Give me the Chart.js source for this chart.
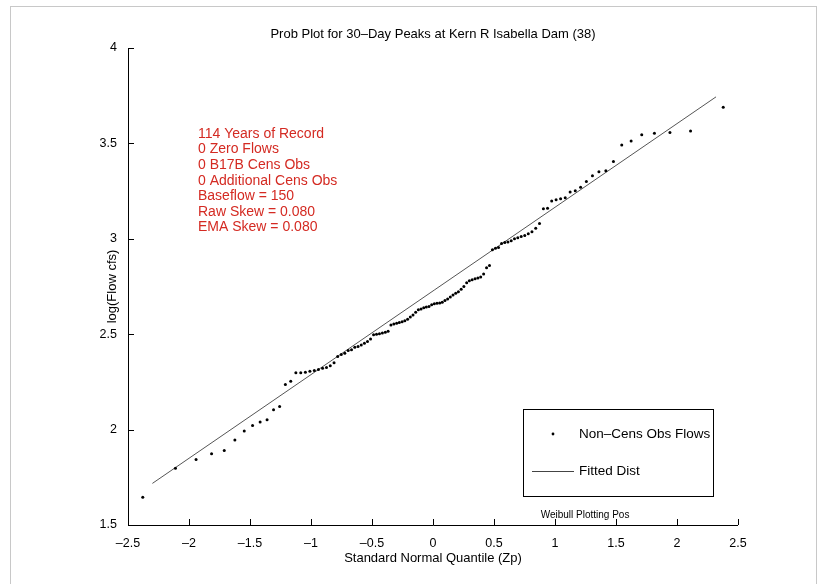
<!DOCTYPE html>
<html>
<head>
<meta charset="utf-8">
<script src="https://cdn.jsdelivr.net/npm/chart.js@4.4.1/dist/chart.umd.min.js"></script>
<style>
  html, body { margin: 0; padding: 0; background: #fff; }
  #wrap { position: relative; width: 827px; height: 584px; }
  #frame { position: absolute; left: 10px; top: 6px; right: 10px; bottom: 0; border: 1px solid #c8c8c8; border-bottom: none; pointer-events: none; }
</style>
</head>
<body>
<div id="wrap">
  <canvas id="probPlot" width="827" height="584"></canvas>
  <div id="frame"></div>
</div>
<script>
// --- DATOS ---
// standard normal quantiles (Weibull plotting positions), 114 years
const zp = [
  -2.379, -2.111, -1.942, -1.815, -1.711, -1.624, -1.547, -1.479, -1.417, -1.360,
  -1.307, -1.257, -1.210, -1.166, -1.124, -1.084, -1.046, -1.009, -0.973, -0.939,
  -0.905, -0.873, -0.842, -0.811, -0.781, -0.752, -0.723, -0.695, -0.668, -0.641,
  -0.614, -0.588, -0.562, -0.537, -0.512, -0.487, -0.463, -0.439, -0.415, -0.391,
  -0.368, -0.345, -0.321, -0.298, -0.276, -0.253, -0.231, -0.208, -0.186, -0.164,
  -0.142, -0.120, -0.098, -0.076, -0.055, -0.033, -0.011,
  0.011, 0.033, 0.055, 0.076, 0.098, 0.120, 0.142, 0.164, 0.186, 0.208,
  0.231, 0.253, 0.276, 0.298, 0.321, 0.345, 0.368, 0.391, 0.415, 0.439,
  0.463, 0.487, 0.512, 0.537, 0.562, 0.588, 0.614, 0.641, 0.668, 0.695,
  0.723, 0.752, 0.781, 0.811, 0.842, 0.873, 0.905, 0.939, 0.973, 1.009,
  1.046, 1.084, 1.124, 1.166, 1.210, 1.257, 1.307, 1.360, 1.417, 1.479,
  1.547, 1.624, 1.711, 1.815, 1.942, 2.111, 2.379
];

// log10 of the 30-day peak flows, sorted
const logFlow = [
  1.645, 1.797, 1.843, 1.874, 1.891, 1.946, 1.993, 2.022, 2.040, 2.052,
  2.104, 2.121, 2.237, 2.253,
  2.298, 2.298, 2.301, 2.306, 2.310, 2.315, 2.322, 2.325, 2.335, 2.350,
  2.383, 2.393, 2.400, 2.414, 2.419, 2.431, 2.436, 2.443, 2.453,
  2.462, 2.475, 2.497, 2.500, 2.503, 2.506, 2.510, 2.516, 2.548, 2.553,
  2.558, 2.561, 2.565, 2.570, 2.578, 2.590, 2.600, 2.615, 2.628, 2.632,
  2.638, 2.642, 2.645, 2.655,
  2.660, 2.662, 2.664, 2.668, 2.676, 2.685, 2.695, 2.705, 2.714, 2.722,
  2.735, 2.750, 2.770, 2.780, 2.785, 2.790, 2.795, 2.800, 2.815, 2.848, 2.860,
  2.942, 2.950, 2.955, 2.975, 2.980, 2.983, 2.990, 3.000, 3.005, 3.012,
  3.017, 3.027, 3.037, 3.055, 3.080, 3.158, 3.160, 3.198, 3.205, 3.210,
  3.215, 3.245, 3.252,
  3.270, 3.300, 3.330, 3.352, 3.357, 3.405, 3.492, 3.512, 3.545, 3.553,
  3.557, 3.565, 3.690
];

// fitted distribution (straight line in normal space)
const fitZ = [-2.30, 2.32];
const fitLog = [1.718, 3.744];

const xTicks = [-2.5, -2, -1.5, -1, -0.5, 0, 0.5, 1, 1.5, 2, 2.5];
const yTicks = [1.5, 2, 2.5, 3, 3.5, 4];

const tituloGrafico = 'Prob Plot for 30\u2013Day Peaks at Kern R Isabella Dam (38)';
const tituloX = 'Standard Normal Quantile (Zp)';
const tituloY = 'log(Flow cfs)';
const notaPosicion = 'Weibull Plotting Pos';
const resumen = [
  '114 Years of Record',
  '0 Zero Flows',
  '0 B17B Cens Obs',
  '0 Additional Cens Obs',
  'Baseflow = 150',
  'Raw Skew = 0.080',
  'EMA Skew = 0.080'
];
const leyenda = ['Non\u2013Cens Obs Flows', 'Fitted Dist'];

// --- UTILIDADES ---
const FUENTE = '"Liberation Sans", Arial, sans-serif';
const fmtTick = v => String(v).replace('-', '\u2013');

// --- PLUGIN: ejes estilo MATLAB, textos y leyenda ---
const decoracion = {
  id: 'decoracion',
  afterDraw(chart) {
    const ctx = chart.ctx;
    const area = chart.chartArea;
    const sx = chart.scales.x, sy = chart.scales.y;
    ctx.save();

    // axis lines + inward ticks
    ctx.strokeStyle = '#000';
    ctx.lineWidth = 1;
    ctx.beginPath();
    ctx.moveTo(area.left + 0.5, area.top);
    ctx.lineTo(area.left + 0.5, area.bottom + 0.5);
    ctx.lineTo(area.right, area.bottom + 0.5);
    xTicks.forEach(v => {
      const px = Math.round(sx.getPixelForValue(v)) + 0.5;
      ctx.moveTo(px, area.bottom);
      ctx.lineTo(px, area.bottom - 6);
    });
    yTicks.forEach(v => {
      const py = Math.round(sy.getPixelForValue(v)) + 0.5;
      ctx.moveTo(area.left, py);
      ctx.lineTo(area.left + 6, py);
    });
    ctx.stroke();

    // title and axis titles
    ctx.fillStyle = '#000';
    ctx.font = '13px ' + FUENTE;
    ctx.textAlign = 'center';
    ctx.textBaseline = 'middle';
    ctx.fillText(tituloGrafico, (area.left + area.right) / 2, 34);
    ctx.fillText(tituloX, (area.left + area.right) / 2, 558);
    ctx.save();
    ctx.translate(112, (area.top + area.bottom) / 2);
    ctx.rotate(-Math.PI / 2);
    ctx.fillText(tituloY, 0, 0);
    ctx.restore();

    // summary box in red
    ctx.fillStyle = '#d42a22';
    ctx.font = '14px ' + FUENTE;
    ctx.textAlign = 'left';
    resumen.forEach((t, i) => ctx.fillText(t, 198, 134 + i * 15.6));

    // plotting position note
    ctx.fillStyle = '#000';
    ctx.font = '10px ' + FUENTE;
    ctx.textAlign = 'center';
    ctx.fillText(notaPosicion, 585, 515);

    // legend
    const lx = 523, ly = 409, lw = 190, lh = 87;
    ctx.strokeStyle = '#000';
    ctx.strokeRect(lx + 0.5, ly + 0.5, lw, lh);
    ctx.fillStyle = '#000';
    ctx.beginPath();
    ctx.arc(lx + 30, ly + 25, 1.4, 0, Math.PI * 2);
    ctx.fill();
    ctx.strokeStyle = '#444';
    ctx.beginPath();
    ctx.moveTo(lx + 9, ly + 62.5);
    ctx.lineTo(lx + 51, ly + 62.5);
    ctx.stroke();
    ctx.fillStyle = '#000';
    ctx.font = '13.5px ' + FUENTE;
    ctx.textAlign = 'left';
    ctx.fillText(leyenda[0], lx + 56, ly + 25);
    ctx.fillText(leyenda[1], lx + 56, ly + 62);

    ctx.restore();
  }
};

// --- GRAFICO ---
new Chart(document.getElementById('probPlot'), {
  type: 'scatter',
  data: {
    datasets: [
      {
        label: leyenda[0],
        data: zp.map((z, i) => ({ x: z, y: logFlow[i] })),
        pointRadius: 1.5,
        pointBackgroundColor: '#000',
        pointBorderWidth: 0,
        showLine: false
      },
      {
        label: leyenda[1],
        data: fitZ.map((z, i) => ({ x: z, y: fitLog[i] })),
        showLine: true,
        borderColor: '#555',
        borderWidth: 1,
        pointRadius: 0
      }
    ]
  },
  options: {
    responsive: false,
    animation: false,
    layout: { padding: { top: 48, right: 89, left: 0, bottom: 0 } },
    plugins: {
      legend: { display: false },
      tooltip: { enabled: false },
      title: { display: false }
    },
    scales: {
      x: {
        type: 'linear',
        min: -2.5, max: 2.5,
        afterFit(s) { s.height = 59; },
        afterBuildTicks(s) { s.ticks = xTicks.map(v => ({ value: v })); },
        grid: { display: false },
        border: { display: false },
        ticks: {
          color: '#000', padding: 3,
          font: { family: FUENTE, size: 12.5 },
          callback: v => fmtTick(v),
          maxRotation: 0
        }
      },
      y: {
        type: 'linear',
        min: 1.5, max: 4,
        afterFit(s) { s.width = 128; },
        afterBuildTicks(s) { s.ticks = yTicks.map(v => ({ value: v })); },
        grid: { display: false },
        border: { display: false },
        ticks: {
          color: '#000', padding: 3,
          font: { family: FUENTE, size: 12.5 },
          callback: v => fmtTick(v)
        }
      }
    }
  },
  plugins: [decoracion]
});
</script>
</body>
</html>
